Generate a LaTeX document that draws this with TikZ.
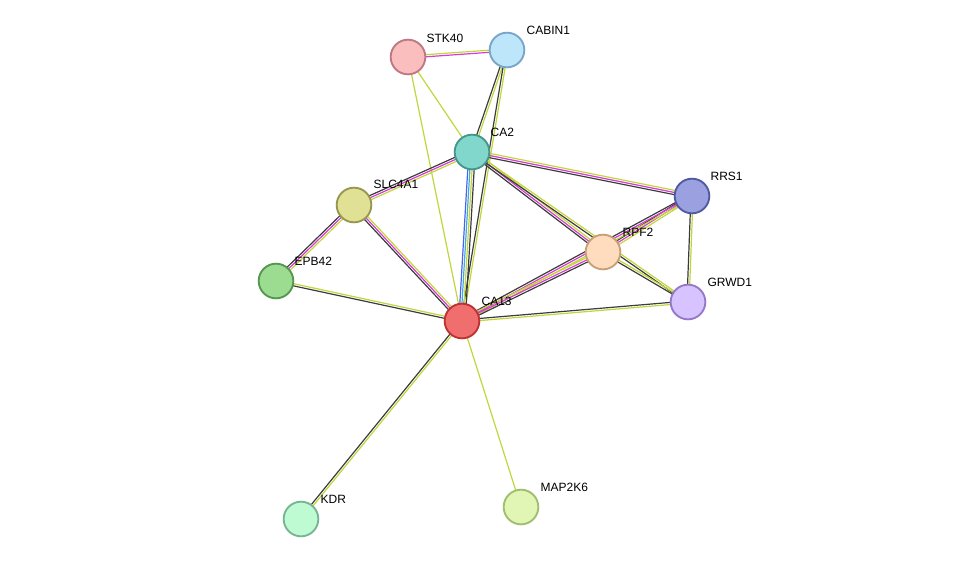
\documentclass[tikz,border=0pt]{standalone}
\usepackage{fontspec}
\setmainfont{Liberation Sans}
\usetikzlibrary{calc}
\definecolor{yg}{HTML}{C2D63C}
\definecolor{dk}{HTML}{3C3C3C}
\definecolor{mg}{HTML}{D43CD4}
\definecolor{bl}{HTML}{4466EE}
\definecolor{cy}{HTML}{44AADD}
\newcommand\edge[4]{%
 \foreach \c [count=\i] in {#4}{%
   \pgfmathsetmacro\o{(\i-(#3+1)/2)*1.6}%
   \draw[\c, line width=0.9pt] ($(#1)!\o pt!90:(#2)$) -- ($(#2)!\o pt!-90:(#1)$);
 }}
\tikzset{prot/.style={circle,minimum size=26pt,inner sep=0pt,line width=1.4pt},
 lab/.style={font=\fontsize{9}{10}\selectfont,anchor=south west,inner sep=1pt}}
\begin{document}
\begin{tikzpicture}[x=0.75pt,y=-0.75pt]
\useasboundingbox (0,0) rectangle (975,565);
\coordinate (STK40) at (408,57);
\coordinate (CABIN1) at (507,50);
\coordinate (CA2) at (472,152);
\coordinate (SLC4A1) at (354,205);
\coordinate (RRS1) at (692,196);
\coordinate (RPF2) at (603,252);
\coordinate (EPB42) at (276,281);
\coordinate (GRWD1) at (688,302);
\coordinate (CA13) at (462,321);
\coordinate (KDR) at (301,519);
\coordinate (MAP2K6) at (521,507);
\edge{STK40}{CABIN1}{2}{mg,yg}
\edge{STK40}{CA2}{1}{yg}
\edge{STK40}{CA13}{1}{yg}
\edge{CABIN1}{CA2}{2}{dk,yg}
\edge{CABIN1}{CA13}{2}{dk,yg}
\edge{CA2}{SLC4A1}{3}{dk,mg,yg}
\edge{CA2}{RRS1}{3}{dk,mg,yg}
\edge{CA2}{RPF2}{3}{dk,mg,yg}
\edge{CA2}{GRWD1}{2}{dk,yg}
\edge{CA2}{CA13}{4}{bl,cy,yg,dk}
\edge{SLC4A1}{EPB42}{3}{dk,mg,yg}
\edge{SLC4A1}{CA13}{3}{dk,mg,yg}
\edge{EPB42}{CA13}{2}{dk,yg}
\edge{RRS1}{RPF2}{3}{dk,mg,yg}
\edge{RRS1}{GRWD1}{2}{dk,yg}
\edge{RRS1}{CA13}{3}{dk,mg,yg}
\edge{RPF2}{GRWD1}{2}{dk,yg}
\edge{RPF2}{CA13}{3}{yg,mg,dk}
\edge{GRWD1}{CA13}{2}{dk,yg}
\edge{CA13}{KDR}{2}{dk,yg}
\edge{CA13}{MAP2K6}{1}{yg}
\node[prot,fill={rgb,255:red,250;green,190;blue,190},draw={rgb,255:red,190;green,120;blue,130}] (nSTK40) at (STK40) {};
\node[prot,fill={rgb,255:red,190;green,230;blue,250},draw={rgb,255:red,120;green,165;blue,200}] (nCABIN1) at (CABIN1) {};
\node[prot,fill={rgb,255:red,130;green,215;blue,205},draw={rgb,255:red,70;green,150;blue,140}] (nCA2) at (CA2) {};
\node[prot,fill={rgb,255:red,225;green,225;blue,150},draw={rgb,255:red,150;green,150;blue,80}] (nSLC4A1) at (SLC4A1) {};
\node[prot,fill={rgb,255:red,155;green,160;blue,225},draw={rgb,255:red,80;green,90;blue,160}] (nRRS1) at (RRS1) {};
\node[prot,fill={rgb,255:red,255;green,220;blue,190},draw={rgb,255:red,200;green,160;blue,120}] (nRPF2) at (RPF2) {};
\node[prot,fill={rgb,255:red,155;green,220;blue,145},draw={rgb,255:red,85;green,150;blue,80}] (nEPB42) at (EPB42) {};
\node[prot,fill={rgb,255:red,215;green,195;blue,255},draw={rgb,255:red,150;green,120;blue,200}] (nGRWD1) at (GRWD1) {};
\node[prot,fill={rgb,255:red,240;green,110;blue,110},draw={rgb,255:red,190;green,50;blue,50}] (nCA13) at (CA13) {};
\node[prot,fill={rgb,255:red,190;green,250;blue,210},draw={rgb,255:red,120;green,180;blue,145}] (nKDR) at (KDR) {};
\node[prot,fill={rgb,255:red,225;green,245;blue,180},draw={rgb,255:red,160;green,190;blue,110}] (nMAP2K6) at (MAP2K6) {};
\node[lab] at (425,44) {STK40};
\node[lab] at (525,36) {CABIN1};
\node[lab] at (489,138) {CA2};
\node[lab] at (372,190) {SLC4A1};
\node[lab] at (709,182) {RRS1};
\node[lab] at (621,238) {RPF2};
\node[lab] at (293,267) {EPB42};
\node[lab] at (706,288) {GRWD1};
\node[lab] at (480,307) {CA13};
\node[lab] at (319,505) {KDR};
\node[lab] at (539,493) {MAP2K6};
\end{tikzpicture}
\end{document}
